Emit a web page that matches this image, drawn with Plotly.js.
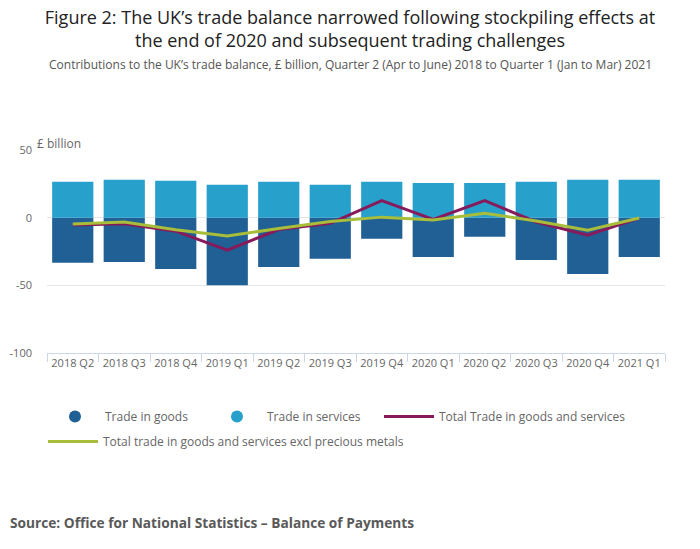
<!DOCTYPE html>
<html>
<head>
<meta charset="utf-8">
<script src="https://cdn.plot.ly/plotly-3.0.1.min.js"></script>
<style>
  html, body { margin: 0; padding: 0; background: #fff; }
  #chart { width: 700px; height: 549px; }
</style>
</head>
<body>
<div id="chart"></div>
<script>
const quarters = ["2018 Q2", "2018 Q3", "2018 Q4", "2019 Q1", "2019 Q2", "2019 Q3",
                  "2019 Q4", "2020 Q1", "2020 Q2", "2020 Q3", "2020 Q4", "2021 Q1"];
const goods = [-33.4, -32.7, -37.9, -50.0, -36.4, -30.4, -15.6, -29.0, -14.1, -31.2, -41.6, -29.0];
const services = [26.5, 28.0, 27.2, 24.3, 26.5, 24.3, 26.5, 25.7, 25.7, 26.5, 28.0, 28.0];
const total = [-5.4, -4.5, -10.0, -24.0, -8.8, -4.2, 12.6, -1.2, 12.6, -3.2, -12.9, -0.3];
const totalExcl = [-4.6, -3.2, -9.0, -13.6, -8.0, -2.8, 0.4, -1.7, 3.2, -2.4, -9.2, -0.3];
const yTicks = [50, 0, -50, -100];
const yTickText = ["50", "0", "-50", "-100"];

const darkBlue = "#206095", lightBlue = "#27a0cc", purple = "#871a5b", green = "#a8bd3a";

// plot area in pixels, used to place the paper-referenced texts
const W = 700, H = 549, L = 47, R = 35, T = 150, B = 196;
const pw = W - L - R, ph = H - T - B;
const px = x => (x - L) / pw;
const py = y => (H - B - y) / ph;

const traces = [
  { type: "bar", x: quarters, y: goods, name: "Trade in goods", marker: { color: darkBlue },
    showlegend: false, legendgroup: "g" },
  { type: "bar", x: quarters, y: services, name: "Trade in services", marker: { color: lightBlue },
    showlegend: false, legendgroup: "s" },
  // legend proxies, so the bar entries get round symbols like the original
  { type: "scatter", mode: "markers", x: [quarters[0]], y: [null], name: "Trade in goods",
    marker: { color: darkBlue, size: 12, symbol: "circle" }, legendgroup: "g" },
  { type: "scatter", mode: "markers", x: [quarters[0]], y: [null], name: "Trade in services",
    marker: { color: lightBlue, size: 12, symbol: "circle" }, legendgroup: "s", legend: "legend3" },
  { type: "scatter", mode: "lines", x: quarters, y: total, name: "Total Trade in goods and services",
    line: { color: purple, width: 3 }, legend: "legend4" },
  { type: "scatter", mode: "lines", x: quarters, y: totalExcl, name: "Total trade in goods and services excl precious metals",
    line: { color: green, width: 3 }, legend: "legend2" }
];

// one legend per entry so each sits where the original puts it
const legendAt = (x, y) => ({
  orientation: "h",
  x: px(x), y: py(y),
  xanchor: "left", yanchor: "top",
  font: { size: 12, color: "#666" },
  itemwidth: 50
});

const layout = {
  width: W, height: H,
  margin: { l: L, r: R, t: T, b: B, autoexpand: false },
  paper_bgcolor: "#fff", plot_bgcolor: "#fff",
  font: { family: "Open Sans, sans-serif", color: "#666", size: 11 },
  barmode: "relative",
  bargap: 0.2,
  title: {
    text: "Figure 2: The UK’s trade balance narrowed following stockpiling effects at<br>the end of 2020 and subsequent trading challenges",
    font: { size: 18, color: "#222" },
    x: 0.5, xanchor: "center", xref: "container",
    y: 1 - 24 / H, yanchor: "middle", yref: "container"
  },
  xaxis: {
    type: "category",
    range: [-0.5, quarters.length - 0.5],
    automargin: false,
    showgrid: false,
    showline: true, linecolor: "#ccd6eb", linewidth: 1,
    ticks: "outside", tickson: "boundaries", ticklen: 8, tickcolor: "#ccd6eb",
    tickangle: 0,
    tickfont: { size: 11, color: "#666" },
    fixedrange: true
  },
  yaxis: {
    automargin: false,
    range: [-100, 50],
    tickvals: yTicks, ticktext: yTickText,
    showgrid: true, gridcolor: "#e6e6e6", gridwidth: 1,
    zeroline: false, showline: false,
    ticks: "", ticklabelstandoff: 14,
    tickfont: { size: 11, color: "#666" },
    fixedrange: true
  },
  legend: legendAt(45, 402),
  legend3: legendAt(207, 402),
  legend4: legendAt(379, 402),
  legend2: legendAt(43, 427),
  annotations: [
    { text: "Contributions to the UK’s trade balance, £ billion, Quarter 2 (Apr to June) 2018 to Quarter 1 (Jan to Mar) 2021",
      xref: "paper", yref: "paper", x: px(350), xanchor: "center", y: py(64), yanchor: "middle",
      showarrow: false, font: { size: 12, color: "#555" } },
    { text: "£ billion", xref: "paper", yref: "paper", x: px(35), xanchor: "left", y: py(143), yanchor: "middle",
      showarrow: false, font: { size: 12, color: "#666" } },
    { text: "<b>Source: Office for National Statistics – Balance of Payments</b>",
      xref: "paper", yref: "paper", x: px(8), xanchor: "left", y: py(522), yanchor: "middle",
      showarrow: false, font: { size: 13.7, color: "#595959" } }
  ]
};

Plotly.newPlot("chart", traces, layout, { displayModeBar: false, staticPlot: true });
</script>
</body>
</html>
